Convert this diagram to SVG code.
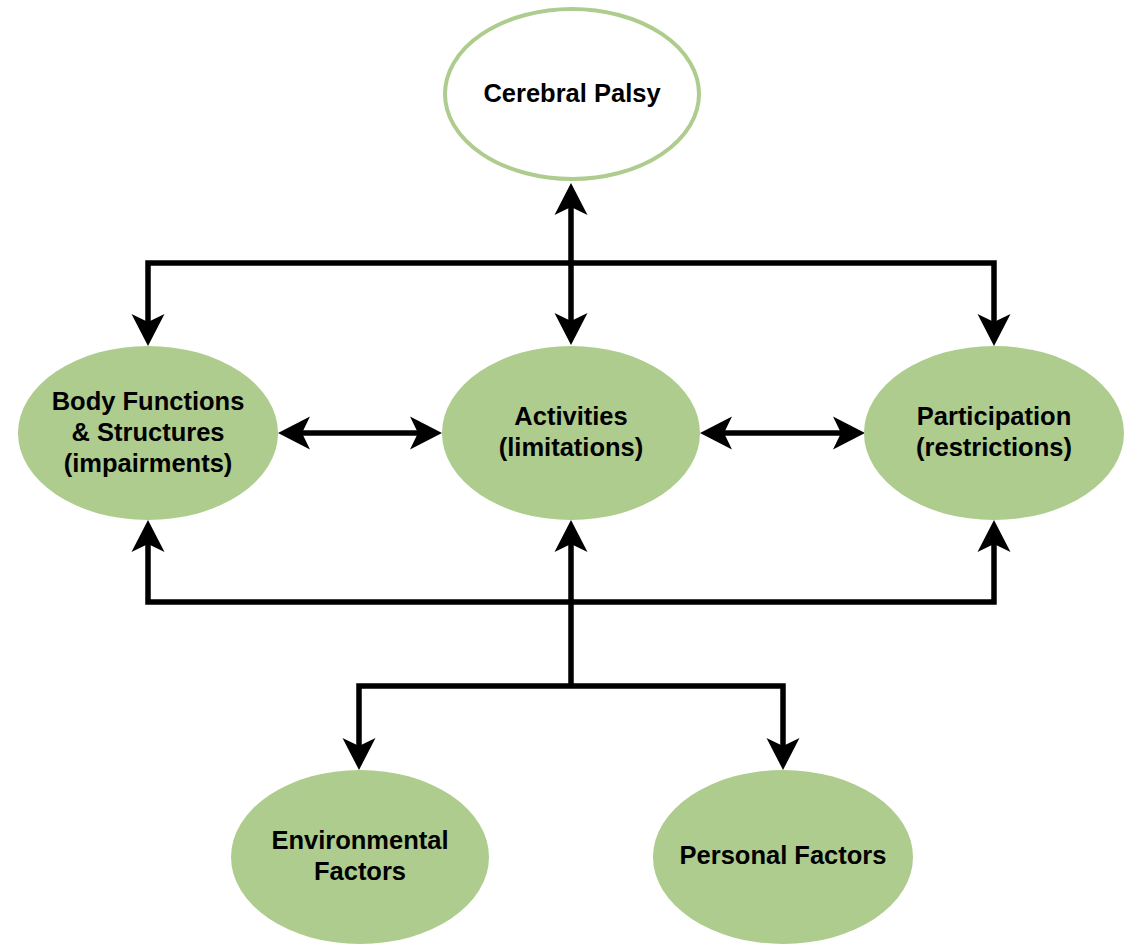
<svg xmlns="http://www.w3.org/2000/svg" width="1124" height="945" viewBox="0 0 1124 945">
<style>
.node{fill:#AECC8D;stroke:none}
.top{fill:#FFFFFF;stroke:#AECC8D;stroke-width:4}
.lbl{font-family:"Liberation Sans",Arial,sans-serif;font-weight:bold;font-size:25.5px;fill:#000;text-anchor:middle}
.conn{fill:none;stroke:#000;stroke-width:5.5;stroke-linejoin:miter}
</style>
<defs>
<marker id="arr" viewBox="0 -17 32 34" markerWidth="32" markerHeight="34" refX="8" refY="0" markerUnits="userSpaceOnUse" orient="auto-start-reverse">
<path d="M0,-16.5 L32,0 L0,16.5 L8,0 Z" fill="#000"/>
</marker>
</defs>
<rect width="1124" height="945" fill="#FFFFFF"/>
<g id="connectors">
<path class="conn" d="M148,322 V263 H994 V322" marker-start="url(#arr)" marker-end="url(#arr)"/>
<path class="conn" d="M571,207 V321" marker-start="url(#arr)" marker-end="url(#arr)"/>
<path class="conn" d="M302,433 H418" marker-start="url(#arr)" marker-end="url(#arr)"/>
<path class="conn" d="M724,433 H841" marker-start="url(#arr)" marker-end="url(#arr)"/>
<path class="conn" d="M148,544 V602 H994 V544" marker-start="url(#arr)" marker-end="url(#arr)"/>
<path class="conn" d="M571,686 V544" marker-end="url(#arr)"/>
<path class="conn" d="M359,746 V686 H783 V746" marker-start="url(#arr)" marker-end="url(#arr)"/>
</g>
<g id="cerebral-palsy">
<ellipse class="top" cx="572" cy="94" rx="127" ry="85"/>
<text class="lbl" x="572" y="102">Cerebral Palsy</text>
</g>
<g id="body-functions">
<ellipse class="node" cx="148" cy="433" rx="130" ry="87"/>
<text class="lbl" x="148" y="410">Body Functions</text>
<text class="lbl" x="148" y="441">&amp; Structures</text>
<text class="lbl" x="148" y="472">(impairments)</text>
</g>
<g id="activities">
<ellipse class="node" cx="571" cy="433" rx="129" ry="87"/>
<text class="lbl" x="571" y="425">Activities</text>
<text class="lbl" x="571" y="456">(limitations)</text>
</g>
<g id="participation">
<ellipse class="node" cx="994" cy="433" rx="130" ry="87"/>
<text class="lbl" x="994" y="425">Participation</text>
<text class="lbl" x="994" y="456">(restrictions)</text>
</g>
<g id="environmental-factors">
<ellipse class="node" cx="360" cy="857" rx="129" ry="87"/>
<text class="lbl" x="360" y="849">Environmental</text>
<text class="lbl" x="360" y="880">Factors</text>
</g>
<g id="personal-factors">
<ellipse class="node" cx="783" cy="857" rx="130" ry="87"/>
<text class="lbl" x="783" y="864">Personal Factors</text>
</g>
</svg>
